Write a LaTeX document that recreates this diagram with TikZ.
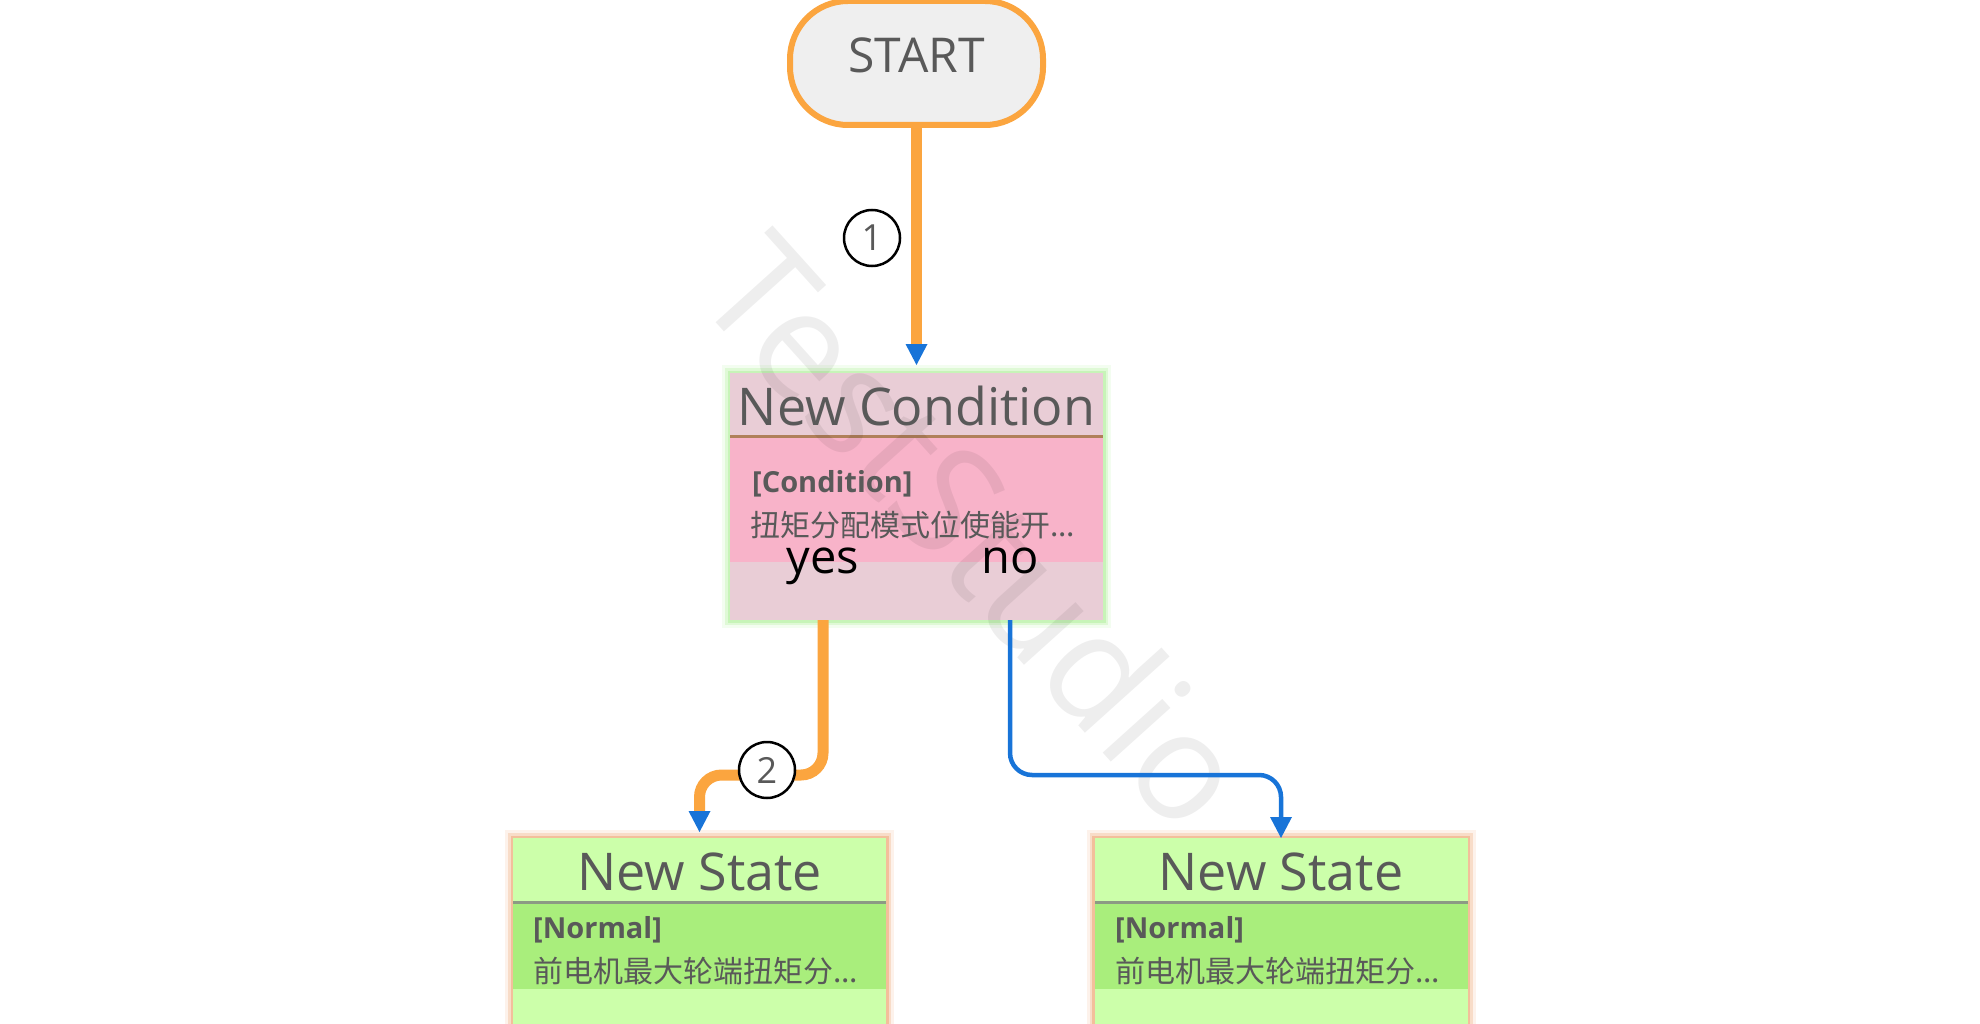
\documentclass[tikz,border=0pt]{standalone}
\usepackage{fontspec}
\setmainfont{Open Sans}
\newfontfamily\cjk{Noto Sans CJK SC}
\usetikzlibrary{arrows.meta,calc}
\definecolor{orng}{HTML}{FBA53F}
\definecolor{arrblue}{HTML}{1874D8}
\definecolor{txtgray}{HTML}{595959}
\definecolor{startfill}{HTML}{EFEFEF}
\definecolor{condhead}{HTML}{E9CDD6}
\definecolor{condmid}{HTML}{F8B3C9}
\definecolor{condsep}{HTML}{B0805A}
\definecolor{sthead}{HTML}{CCFFAA}
\definecolor{stmid}{HTML}{A9EE7C}
\definecolor{stsep}{HTML}{8C9A84}
\definecolor{greenglow}{HTML}{B0F09A}
\definecolor{orangeglow}{HTML}{EFA877}
\begin{document}
\begin{tikzpicture}[x=1pt,y=-1pt,
  box/.style={inner sep=0pt,outer sep=0pt,minimum width=373pt},
  startbox/.style={draw=orng,line width=6pt,fill=startfill,rounded corners=58pt,
    minimum width=253pt,minimum height=124pt,inner sep=0pt},
  title/.style={text=txtgray,font=\fontsize{52}{60}\selectfont,anchor=base,inner sep=0pt},
  tag/.style={text=txtgray,font=\bfseries\fontsize{29}{32}\selectfont,anchor=base west,inner sep=0pt},
  desc/.style={text=txtgray,font=\cjk\fontsize{30}{34}\selectfont,anchor=base west,inner sep=0pt},
  branch/.style={text=black,font=\fontsize{47}{52}\selectfont,anchor=base,inner sep=0pt},
  num/.style={circle,draw=black,line width=2.5pt,fill=white,minimum size=56pt,inner sep=0pt,
    text=txtgray,font=\fontsize{36}{40}\selectfont},
  tipb/.style={-{Triangle[width=22pt,length=21pt,line width=0pt,color=arrblue]}},
  orangeconn/.style={draw=orng,line width=11pt,tipb,rounded corners=22pt},
  blueconn/.style={draw=arrblue,line width=4.5pt,tipb,rounded corners=22pt}
]
\useasboundingbox (0,0) rectangle (1980,1024);
\clip (0,0) rectangle (1980,1024);

% START
\node[startbox] (start) at (916.5,63) {};
\node[text=txtgray,font=\fontsize{48}{54}\selectfont,anchor=base,inner sep=0pt] (starttxt) at (916.5,73) {START};

% condition box
\node[box,minimum height=247pt] (cond) at (916.5,496.5) {};
\draw[greenglow,line width=16pt,opacity=.15] (cond.north west) rectangle (cond.south east);
\draw[greenglow,line width=10pt,opacity=.3] (cond.north west) rectangle (cond.south east);
\draw[greenglow,line width=5pt,opacity=.5] (cond.north west) rectangle (cond.south east);
\fill[condhead] (cond.north west) rectangle (cond.south east);
\fill[condmid] ($(cond.north west)+(0,64)$) rectangle ($(cond.north east)+(0,189)$);
\fill[condsep] ($(cond.north west)+(0,62)$) rectangle ($(cond.north east)+(0,65)$);

% state boxes
\node[box,minimum height=222pt] (st1) at (699.5,949) {};
\node[box,minimum height=222pt] (st2) at (1281,949) {};
\foreach \s in {st1,st2}{
  \draw[orangeglow,line width=16pt,opacity=.15] (\s.north west) rectangle (\s.south east);
  \draw[orangeglow,line width=10pt,opacity=.3] (\s.north west) rectangle (\s.south east);
  \draw[orangeglow,line width=5pt,opacity=.55] (\s.north west) rectangle (\s.south east);
  \fill[sthead] (\s.north west) rectangle (\s.south east);
  \fill[stmid] ($(\s.north west)+(0,65)$) rectangle ($(\s.north east)+(0,151)$);
  \fill[stsep] ($(\s.north west)+(0,63)$) rectangle ($(\s.north east)+(0,66)$);
}

% watermark
\node[rotate=-48,text=black,opacity=.065,font=\fontsize{150}{150}\selectfont,inner sep=0pt] (wm) at (978,530) {TestStudio};

% texts
\node[title] (condtitle) at (916.5,425) {New Condition};
\node[tag] (condtag) at (752,492) {[Condition]};
\node[desc] (conddesc) at (750,536) {扭矩分配模式位使能开...};
\node[branch] (yes) at (823,573) {yes};
\node[branch] (no) at (1010,573) {no};

\node[title] (st1title) at (699.5,890) {New State};
\node[tag] (st1tag) at (533,938) {[Normal]};
\node[desc] (st1desc) at (533,982) {前电机最大轮端扭矩分...};
\node[title] (st2title) at (1281,890) {New State};
\node[tag] (st2tag) at (1115,938) {[Normal]};
\node[desc] (st2desc) at (1115,982) {前电机最大轮端扭矩分...};

% connectors
\coordinate (ybend) at (0,775);
\draw[orangeconn,shorten >=8pt] (start.south) -- (cond.north);
\draw[orangeconn,shorten >=6pt] (yes |- cond.south) -- (yes |- ybend) -- (st1 |- ybend) -- (st1.north);
\draw[blueconn] (no |- cond.south) -- (no |- ybend) -- (st2 |- ybend) -- (st2.north);

% numbers
\node[num] (n1) at (872,238) {1};
\node[num] (n2) at (767,770) {2};
\end{tikzpicture}
\end{document}
